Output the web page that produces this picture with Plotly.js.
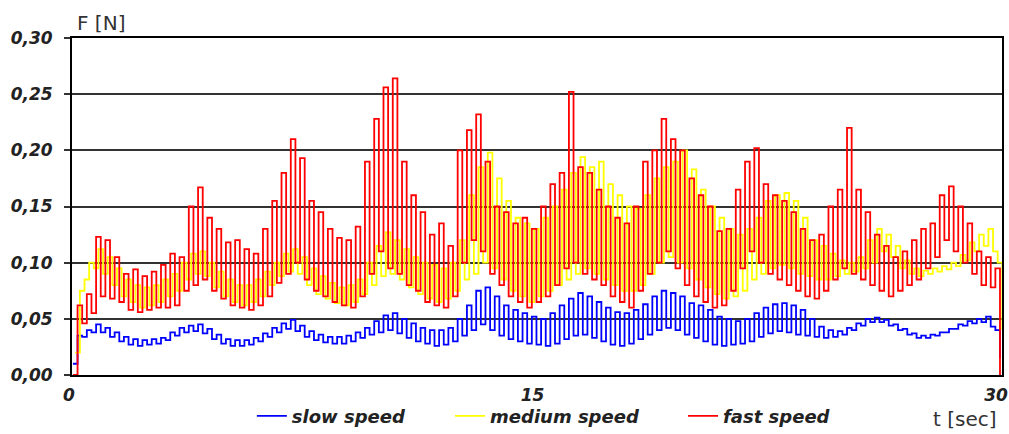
<!DOCTYPE html>
<html>
<head>
<meta charset="utf-8">
<script src="https://cdn.plot.ly/plotly-3.0.1.min.js"></script>
<style>html,body{margin:0;padding:0;background:#fff;}#chart{width:1009px;height:434px;}</style>
</head>
<body>
<div id="chart"></div>
<script>
// Sampling step of the recording (seconds), start time of each run, tick labels
const dt = 0.15;
const startSlow = 0, startMedium = 0.075, startFast = 0;
const xTicks = [0, 15, 30];
const yTicks = [0, 0.05, 0.10, 0.15, 0.20, 0.25, 0.30];
const seriesNames = ['slow speed', 'medium speed', 'fast speed'];

// fast speed: peaks (odd samples) and troughs (even samples)
const fastHi = [
0.062,0.072,0.123,0.120,0.105,0.090,0.094,0.088,0.092,0.098,
0.108,0.105,0.150,0.167,0.140,0.130,0.118,0.120,0.112,0.108,
0.130,0.155,0.180,0.210,0.193,0.155,0.145,0.130,0.122,0.120,
0.132,0.190,0.228,0.256,0.264,0.190,0.160,0.145,0.125,0.135,
0.115,0.200,0.218,0.232,0.190,0.150,0.145,0.135,0.140,0.130,
0.150,0.170,0.180,0.252,0.185,0.180,0.165,0.150,0.140,0.135,
0.150,0.190,0.200,0.228,0.210,0.200,0.175,0.160,0.150,0.128,
0.130,0.165,0.190,0.202,0.170,0.160,0.155,0.145,0.130,0.120,
0.125,0.150,0.165,0.220,0.165,0.145,0.125,0.115,0.105,0.110,
0.120,0.130,0.135,0.160,0.168,0.150,0.135,0.110,0.105,0.095];
const fastLo = [
0.000,0.046,0.055,0.070,0.068,0.065,0.058,0.056,0.058,0.060,
0.060,0.062,0.075,0.080,0.085,0.075,0.068,0.062,0.060,0.058,
0.062,0.070,0.082,0.090,0.100,0.085,0.075,0.070,0.065,0.062,
0.060,0.070,0.090,0.110,0.095,0.090,0.080,0.075,0.065,0.062,
0.060,0.070,0.100,0.120,0.110,0.090,0.080,0.070,0.065,0.060,
0.065,0.070,0.080,0.095,0.100,0.090,0.085,0.080,0.070,0.065,
0.060,0.075,0.090,0.100,0.110,0.095,0.080,0.070,0.065,0.060,
0.062,0.075,0.095,0.110,0.100,0.090,0.085,0.080,0.075,0.070,
0.068,0.075,0.085,0.095,0.090,0.085,0.080,0.075,0.070,0.075,
0.080,0.085,0.095,0.105,0.120,0.110,0.100,0.090,0.080,0.078,
0.000];

// medium speed
const mediumHi = [
0.075,0.100,0.112,0.105,0.095,0.085,0.080,0.078,0.080,0.085,
0.090,0.100,0.108,0.110,0.100,0.092,0.085,0.080,0.080,0.085,
0.092,0.100,0.108,0.112,0.105,0.095,0.088,0.082,0.078,0.080,
0.085,0.100,0.115,0.127,0.120,0.112,0.105,0.100,0.098,0.095,
0.100,0.120,0.160,0.185,0.198,0.175,0.155,0.140,0.135,0.130,
0.140,0.150,0.165,0.180,0.194,0.185,0.190,0.170,0.160,0.150,
0.148,0.160,0.175,0.185,0.190,0.200,0.183,0.165,0.150,0.140,
0.130,0.125,0.130,0.140,0.155,0.160,0.162,0.155,0.140,0.120,
0.115,0.108,0.102,0.100,0.105,0.120,0.130,0.125,0.115,0.102,
0.095,0.093,0.095,0.097,0.100,0.107,0.118,0.125,0.130,0.100];
const mediumLo = [
0.020,0.085,0.095,0.090,0.080,0.070,0.065,0.060,0.062,0.065,
0.070,0.075,0.085,0.090,0.088,0.078,0.070,0.065,0.062,0.065,
0.070,0.080,0.088,0.092,0.090,0.080,0.072,0.068,0.064,0.062,
0.065,0.072,0.080,0.088,0.090,0.085,0.078,0.072,0.068,0.065,
0.068,0.075,0.085,0.090,0.100,0.095,0.085,0.075,0.070,0.065,
0.070,0.075,0.080,0.085,0.090,0.095,0.090,0.085,0.080,0.075,
0.075,0.080,0.090,0.100,0.105,0.100,0.095,0.085,0.078,0.072,
0.068,0.070,0.075,0.085,0.090,0.095,0.098,0.095,0.090,0.088,
0.085,0.085,0.088,0.090,0.092,0.095,0.100,0.110,0.105,0.095,
0.090,0.088,0.090,0.092,0.094,0.097,0.102,0.110,0.115,0.110,
0.040];

// slow speed
const slowHi = [
0.035,0.040,0.045,0.042,0.038,0.034,0.032,0.031,0.032,0.033,
0.038,0.042,0.044,0.045,0.041,0.036,0.032,0.031,0.031,0.033,
0.037,0.042,0.046,0.049,0.044,0.039,0.036,0.034,0.034,0.035,
0.038,0.042,0.048,0.053,0.055,0.050,0.046,0.042,0.040,0.040,
0.042,0.050,0.062,0.075,0.078,0.070,0.062,0.058,0.055,0.052,
0.050,0.055,0.062,0.068,0.073,0.070,0.065,0.060,0.056,0.055,
0.058,0.063,0.070,0.075,0.073,0.070,0.064,0.062,0.058,0.052,
0.050,0.048,0.050,0.055,0.060,0.063,0.064,0.062,0.058,0.050,
0.043,0.040,0.039,0.042,0.046,0.050,0.051,0.049,0.045,0.041,
0.037,0.035,0.036,0.038,0.041,0.045,0.048,0.050,0.052,0.040];
const slowLo = [
0.010,0.034,0.038,0.038,0.034,0.030,0.027,0.026,0.027,0.028,
0.031,0.035,0.038,0.039,0.037,0.032,0.028,0.026,0.026,0.027,
0.030,0.034,0.038,0.041,0.039,0.034,0.031,0.029,0.028,0.028,
0.030,0.033,0.036,0.038,0.040,0.037,0.033,0.030,0.028,0.026,
0.027,0.030,0.035,0.040,0.045,0.040,0.035,0.032,0.030,0.028,
0.027,0.026,0.028,0.032,0.035,0.036,0.033,0.030,0.027,0.026,
0.028,0.032,0.036,0.040,0.042,0.040,0.036,0.033,0.030,0.027,
0.026,0.027,0.028,0.030,0.034,0.037,0.039,0.038,0.036,0.035,
0.034,0.033,0.034,0.036,0.040,0.044,0.047,0.047,0.044,0.040,
0.036,0.033,0.033,0.035,0.038,0.041,0.044,0.046,0.047,0.043,
0.015];

function interleave(lo, hi) {
  const out = [];
  for (let i = 0; i < hi.length; i++) { out.push(lo[i]); out.push(hi[i]); }
  out.push(lo[hi.length]);
  return out;
}
function timeAxis(n, start) {
  const out = [];
  for (let k = 0; k < n; k++) out.push(+(start + k * dt).toFixed(3));
  return out;
}
const slow = interleave(slowLo, slowHi);
const medium = interleave(mediumLo, mediumHi);
const fast = interleave(fastLo, fastHi);
const tSlow = timeAxis(slow.length, startSlow);
const tMedium = timeAxis(medium.length, startMedium);
const tFast = timeAxis(fast.length, startFast);

const tickFont = {family: 'DejaVu Sans, Verdana, sans-serif', size: 17, color: '#222', weight: 'bold', style: 'italic'};
const legendFont = {family: 'DejaVu Sans, Verdana, sans-serif', size: 18, color: '#222', weight: 'bold', style: 'italic'};
const titleFont = {family: 'DejaVu Sans, Verdana, sans-serif', size: 20, color: '#333'};

const traces = [
  {x: tSlow, y: slow, name: seriesNames[0], type: 'scatter', mode: 'lines', line: {color: '#0000ff', width: 1.8, shape: 'hv'}, legend: 'legend'},
  {x: tMedium, y: medium, name: seriesNames[1], type: 'scatter', mode: 'lines', line: {color: '#ffff00', width: 1.8, shape: 'hv'}, legend: 'legend2'},
  {x: tFast, y: fast, name: seriesNames[2], type: 'scatter', mode: 'lines', line: {color: '#ff0000', width: 1.8, shape: 'hv'}, legend: 'legend3'}
];

const legendBase = {orientation: 'h', xanchor: 'left', yanchor: 'middle', y: -0.122, font: legendFont, bgcolor: 'rgba(0,0,0,0)', borderwidth: 0};

const layout = {
  width: 1009, height: 434,
  margin: {l: 72, r: 7, t: 38, b: 59, autoexpand: false},
  paper_bgcolor: '#ffffff', plot_bgcolor: '#ffffff',
  separators: ',.',
  showlegend: true,
  legend: Object.assign({}, legendBase, {x: 0.1934}),
  legend2: Object.assign({}, legendBase, {x: 0.4065}),
  legend3: Object.assign({}, legendBase, {x: 0.657}),
  xaxis: {
    range: [-0.03, 30.065], tickmode: 'array', tickvals: xTicks, ticktext: xTicks.map(String),
    showgrid: false, zeroline: false, showline: true, linecolor: '#000', linewidth: 2, mirror: true,
    ticks: '', tickfont: tickFont, ticklabelstandoff: 4, ticklabelshift: -4, automargin: false, fixedrange: true
  },
  yaxis: {
    range: [0, 0.30], tickmode: 'array', tickvals: yTicks, tickformat: '.2f',
    showgrid: true, gridcolor: '#333', gridwidth: 2, zeroline: false,
    showline: true, linecolor: '#000', linewidth: 2, mirror: true,
    ticks: 'outside', ticklen: 6, tickwidth: 2, tickcolor: '#333',
    tickfont: tickFont, ticklabelstandoff: 8, automargin: false, fixedrange: true
  },
  annotations: [
    {text: 'F [N]', xref: 'paper', yref: 'paper', x: 0.003, y: 1.0445, xanchor: 'left', yanchor: 'middle', showarrow: false, font: titleFont},
    {text: 't [sec]', xref: 'paper', yref: 'paper', x: 0.9968, y: -0.1306, xanchor: 'right', yanchor: 'middle', showarrow: false, font: titleFont}
  ]
};

Plotly.newPlot('chart', traces, layout, {displayModeBar: false, staticPlot: true});
</script>
</body>
</html>
